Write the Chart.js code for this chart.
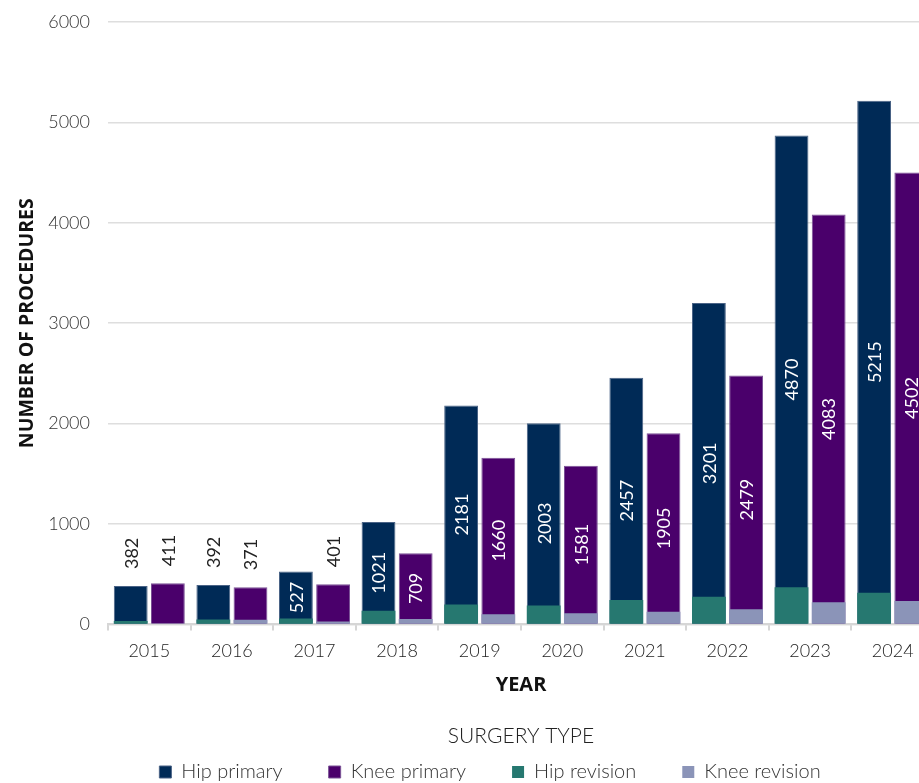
<!DOCTYPE html>
<html>
<head>
<meta charset="utf-8">
<title>Procedures by year</title>
<script src="https://cdn.jsdelivr.net/npm/chart.js@4/dist/chart.umd.min.js"></script>
<style>
  html, body { margin: 0; padding: 0; background: #fff; overflow: hidden; }
  #wrap { position: relative; width: 980px; height: 792px; }
</style>
</head>
<body>
<div id="wrap"><canvas id="proceduresChart"></canvas></div>
<script>
// procedure counts per year
const years = ["2015", "2016", "2017", "2018", "2019", "2020", "2021", "2022", "2023", "2024"];
const hipPrimary = [382, 392, 527, 1021, 2181, 2003, 2457, 3201, 4870, 5215];
const kneePrimary = [411, 371, 401, 709, 1660, 1581, 1905, 2479, 4083, 4502];
const hipRevision = [33, 50, 60, 135, 199, 189, 242, 276, 369, 316];
const kneeRevision = [10, 47, 30, 55, 100, 110, 127, 150, 220, 232];
const yTicks = [0, 1000, 2000, 3000, 4000, 5000, 6000];

const FONT = "Lato, 'Open Sans', sans-serif";
const TITLE_FONT = "'Open Sans', Lato, sans-serif";
Chart.defaults.font.family = FONT;
Chart.defaults.font.weight = "300";

// value labels on the primary bars, rotated; short bars get the label above
const barValueLabels = {
  id: "barValueLabels",
  afterDatasetsDraw(chart) {
    const ctx = chart.ctx;
    [0, 1].forEach((di) => {
      const meta = chart.getDatasetMeta(di);
      const values = chart.data.datasets[di].data;
      meta.data.forEach((bar, i) => {
        const v = values[i];
        ctx.save();
        ctx.font = "18px " + FONT;
        ctx.textBaseline = "middle";
        if (v > 500) {
          ctx.translate(bar.x, (bar.y + bar.base) / 2);
          ctx.rotate(-Math.PI / 2);
          ctx.textAlign = "center";
          ctx.fillStyle = "#ffffff";
          ctx.fillText(String(v), 0, 1);
        } else {
          ctx.translate(bar.x, bar.y);
          ctx.rotate(-Math.PI / 2);
          ctx.textAlign = "left";
          ctx.fillStyle = "#222222";
          ctx.fillText(String(v), 17, 1);
        }
        ctx.restore();
      });
    });
  }
};

// heading above the legend row
const legendHeading = {
  id: "legendHeading",
  afterDraw(chart) {
    const { ctx, chartArea, legend } = chart;
    ctx.save();
    ctx.font = "300 21px " + FONT;
    ctx.fillStyle = "#222222";
    ctx.textAlign = "center";
    ctx.textBaseline = "middle";
    ctx.fillText("SURGERY TYPE", (chartArea.left + chartArea.right) / 2, legend.top + 20);
    ctx.restore();
  }
};

new Chart(document.getElementById("proceduresChart"), {
  type: "bar",
  data: {
    labels: years,
    datasets: [
      {
        label: "Hip primary",
        data: hipPrimary,
        stack: "hip",
        order: 2,
        backgroundColor: "#002a56",
        borderColor: "#4a6386",
        borderWidth: 1
      },
      {
        label: "Knee primary",
        data: kneePrimary,
        stack: "knee",
        order: 2,
        backgroundColor: "#4a006b",
        borderColor: "#7b5296",
        borderWidth: 1
      },
      {
        label: "Hip revision",
        data: hipRevision,
        stack: "hip",
        order: 1,
        backgroundColor: "#267870",
        borderColor: "#267870",
        borderWidth: 0
      },
      {
        label: "Knee revision",
        data: kneeRevision,
        stack: "knee",
        order: 1,
        backgroundColor: "#8b94b8",
        borderColor: "#8b94b8",
        borderWidth: 0
      }
    ]
  },
  options: {
    responsive: true,
    maintainAspectRatio: false,
    animation: false,
    categoryPercentage: 0.9,
    barPercentage: 0.91,
    layout: {
      padding: { top: 22, left: 0, right: 0, bottom: 0 }
    },
    plugins: {
      tooltip: { enabled: false },
      legend: {
        position: "bottom",
        labels: {
          boxWidth: 12,
          boxHeight: 12,
          padding: 46,
          color: "#333333",
          font: { size: 20, weight: "300" },
          sort: (a, b) => a.datasetIndex - b.datasetIndex
        }
      }
    },
    scales: {
      x: {
        stacked: true,
        grid: {
          display: true,
          drawOnChartArea: false,
          drawTicks: true,
          tickLength: 6,
          color: "#d6d6d6",
          lineWidth: 2
        },
        border: { display: true, color: "#d6d6d6", width: 2 },
        ticks: { color: "#222222", padding: 10, font: { size: 18, weight: "300" } },
        title: {
          display: true,
          text: "YEAR",
          color: "#111111",
          font: { family: TITLE_FONT, size: 20, weight: "bold" },
          padding: { top: 1, bottom: 19 }
        }
      },
      y: {
        stacked: false,
        min: 0,
        max: 6000,
        afterBuildTicks: (scale) => {
          scale.ticks = yTicks.map((v) => ({ value: v }));
        },
        afterFit: (scale) => {
          scale.width = 108;
        },
        grid: {
          color: "#dedede",
          lineWidth: 1.5,
          drawTicks: true,
          tickLength: 10,
          tickColor: "rgba(0,0,0,0)"
        },
        border: { display: false },
        ticks: {
          color: "#333333",
          padding: 8,
          font: { size: 18, weight: "300" },
          callback: (v) => String(v)
        },
        title: {
          display: true,
          text: "NUMBER OF PROCEDURES",
          color: "#111111",
          font: { family: TITLE_FONT, size: 19.5, weight: "bold" },
          padding: { top: 16, bottom: 10 }
        }
      },
      // empty spacer on the right side of the plot
      spacer: {
        type: "linear",
        position: "right",
        display: true,
        grid: { display: false },
        border: { display: false },
        ticks: { display: false },
        afterFit: (scale) => {
          scale.width = 46;
        }
      }
    }
  },
  plugins: [barValueLabels, legendHeading]
});
</script>
</body>
</html>
